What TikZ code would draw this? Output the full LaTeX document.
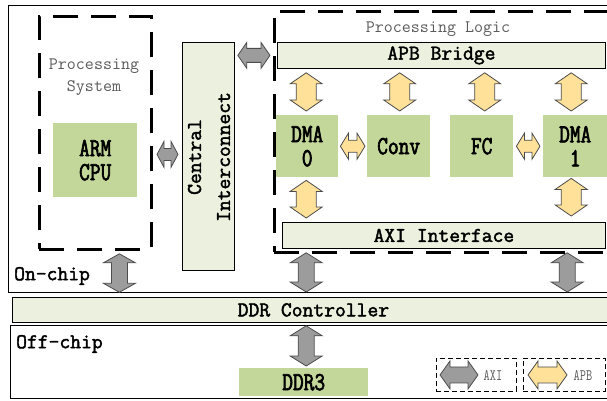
\documentclass[tikz,border=0pt]{standalone}
\usepackage{fontspec}
\setmainfont{Liberation Serif}
\newfontfamily\blkfont[FakeStretch=0.8, FakeBold=2.5]{Latin Modern Mono}
\newfontfamily\lblfont[FakeBold=2]{Latin Modern Mono}
\newfontfamily\grayfont{Latin Modern Mono}
\newfontfamily\legfont[FakeStretch=0.75]{Latin Modern Mono}
\usetikzlibrary{calc}
\definecolor{gblock}{HTML}{C4D79B}
\definecolor{lgreen}{HTML}{EBF1DE}
\definecolor{yarr}{HTML}{FFE199}
\definecolor{garr}{HTML}{9C9C9C}
\definecolor{txtgray}{HTML}{5A5A5A}
% vertical fat double arrow: style, top point, bottom point, head half width, shaft half width, head length
\newcommand\fatv[6]{\path[#1] let \p1=(#2), \p2=(#3) in
  (\x1,\y1) -- (\x1+#4,\y1-#6) -- (\x1+#5,\y1-#6) -- (\x1+#5,\y2+#6) -- (\x1+#4,\y2+#6) -- (\x1,\y2)
  -- (\x1-#4,\y2+#6) -- (\x1-#5,\y2+#6) -- (\x1-#5,\y1-#6) -- (\x1-#4,\y1-#6) -- cycle;}
% horizontal fat double arrow: style, left point, right point, head half width, shaft half width, head length
\newcommand\fath[6]{\path[#1] let \p1=(#2), \p2=(#3) in
  (\x1,\y1) -- (\x1+#6,\y1+#4) -- (\x1+#6,\y1+#5) -- (\x2-#6,\y1+#5) -- (\x2-#6,\y1+#4) -- (\x2,\y1)
  -- (\x2-#6,\y1-#4) -- (\x2-#6,\y1-#5) -- (\x1+#6,\y1-#5) -- (\x1+#6,\y1-#4) -- cycle;}
\tikzset{
  outer/.style={draw=black, line width=1.3pt, inner sep=0pt, anchor=north west},
  bigdash/.style={draw=black, line width=2.8pt, dash pattern=on 25pt off 13pt, inner sep=0pt, anchor=north west},
  legbox/.style={draw=black, line width=0.9pt, dash pattern=on 5pt off 3pt, inner sep=0pt, anchor=north west},
  bar/.style={draw=black, line width=0.8pt, fill=lgreen, inner sep=0pt, anchor=north west,
    font=\lblfont\fontsize{21}{24}\selectfont},
  blk/.style={fill=gblock, inner sep=0pt, anchor=north west, align=center,
    font=\blkfont\fontsize{26}{24}\selectfont},
  lbl/.style={inner sep=0pt, font=\lblfont\fontsize{21}{28}\selectfont, align=center},
  gtxt/.style={inner sep=0pt, text=txtgray, font=\grayfont\fontsize{17.5}{22}\selectfont, align=center},
  legtxt/.style={inner sep=0pt, text=txtgray, font=\legfont\fontsize{16}{18}\selectfont},
  garrow/.style={draw=black!70, fill=garr, line width=0.8pt},
  yarrow/.style={draw=black!70, fill=yarr, line width=0.8pt}
}
\begin{document}
\begin{tikzpicture}[x=1pt,y=-1pt]
\clip (0,0) rectangle (607,401);
% outer regions
\node[outer, minimum width=606, minimum height=287] (onchip) at (8,5) {};
\node[bar, minimum width=602, minimum height=25] (ddr) at (12,297) {DDR Controller};
\node[outer, minimum width=604, minimum height=73] (offchip) at (10,325) {};
% dashed groups
\node[bigdash, minimum width=112, minimum height=233] (ps) at (38,15) {};
\node[bigdash, minimum width=370, minimum height=241] (pl) at (273,10) {};
% blocks
\node[blk, minimum width=84, minimum height=74] (arm) at (53,123) {ARM\\CPU};
\node[bar, minimum width=52, minimum height=228] (ci) at (182,42) {};
\node[lbl, rotate=90, font=\lblfont\fontsize{21}{29}\selectfont] (citxt) at (209,157) {Central\\Interconnect};
\node[bar, minimum width=328, minimum height=26] (apb) at (277,42) {APB Bridge};
\node[bar, minimum width=323, minimum height=26] (axi) at (282,222) {AXI Interface};
\node[blk, minimum width=62, minimum height=62] (dma0) at (276,115) {DMA\\0};
\node[blk, minimum width=63, minimum height=62] (conv) at (367,115) {Conv};
\node[blk, minimum width=63, minimum height=62] (fc) at (450,115) {FC};
\node[blk, minimum width=64, minimum height=62] (dma1) at (543,115) {DMA\\1};
\node[blk, minimum width=129, minimum height=28] (ddr3) at (239,368) {DDR3};
% texts
\node[gtxt] (pstxt) at (94,77) {Processing\\System};
\node[gtxt] (pltxt) at (438,29) {Processing Logic};
\node[lbl, anchor=west] (onchiptxt) at (14,276) {On-chip};
\node[lbl, anchor=west] (offchiptxt) at (16,344) {Off-chip};
% AXI (gray) arrows
\fatv{garrow}{$(ps.south)+(24,3)$}{$(onchip.south -| ps.south)+(24,-1)$}{16pt}{8pt}{9pt}
\fath{garrow}{$(ci.west)+(-25,-2)$}{$(ci.west)+(-4,-2)$}{13pt}{6pt}{7pt}
\fath{garrow}{$(ci.east |- apb.west)+(3,0)$}{$(apb.west)+(-7,0)$}{13pt}{7pt}{9pt}
\fatv{garrow}{$(axi.south -| dma0)+(-1,4)$}{$(ddr.north -| dma0)+(-1,-5)$}{16pt}{8pt}{10pt}
\fatv{garrow}{$(axi.south -| dma1)+(-8,4)$}{$(ddr.north -| dma1)+(-8,-5)$}{16pt}{8pt}{10pt}
\fatv{garrow}{$(ddr.south -| dma0)+(-1,3)$}{$(ddr3.north -| dma0)+(-1,-2)$}{16pt}{8pt}{10pt}
% APB (yellow) arrows
\fatv{yarrow}{$(apb.south -| dma0)+(-1,4)$}{$(dma0.north)+(-1,-4)$}{16pt}{10pt}{11pt}
\fatv{yarrow}{$(apb.south -| conv)+(1,4)$}{$(conv.north)+(1,-4)$}{16pt}{10pt}{11pt}
\fatv{yarrow}{$(apb.south -| fc)+(3,4)$}{$(fc.north)+(3,-4)$}{16pt}{10pt}{11pt}
\fatv{yarrow}{$(apb.south -| dma1)+(-4,4)$}{$(dma1.north)+(-4,-4)$}{16pt}{10pt}{11pt}
\fath{yarrow}{$(dma0.east)+(2,0)$}{$(conv.west)+(-2,0)$}{13pt}{6pt}{8pt}
\fath{yarrow}{$(fc.east)+(3,0)$}{$(dma1.west)+(-3,0)$}{13pt}{6pt}{8pt}
\fatv{yarrow}{$(dma0.south)+(-1,3)$}{$(axi.north -| dma0)+(-1,-4)$}{16pt}{10pt}{11pt}
\fatv{yarrow}{$(dma1.south)+(-4,1)$}{$(axi.north -| dma1)+(-4,-6)$}{16pt}{10pt}{11pt}
% legend
\node[legbox, minimum width=80, minimum height=33] (legaxi) at (436,358) {};
\node[legbox, minimum width=82, minimum height=33] (legapb) at (523,358) {};
\fath{garrow}{$(legaxi.west)+(4,0)$}{$(legaxi.west)+(42,0)$}{14pt}{8pt}{10pt}
\fath{yarrow}{$(legapb.west)+(5,0)$}{$(legapb.west)+(44,0)$}{14pt}{8pt}{10pt}
\node[legtxt] (legaxitxt) at ($(legaxi.west)+(57,1)$) {AXI};
\node[legtxt] (legapbtxt) at ($(legapb.west)+(60,1)$) {APB};
\end{tikzpicture}
\end{document}
